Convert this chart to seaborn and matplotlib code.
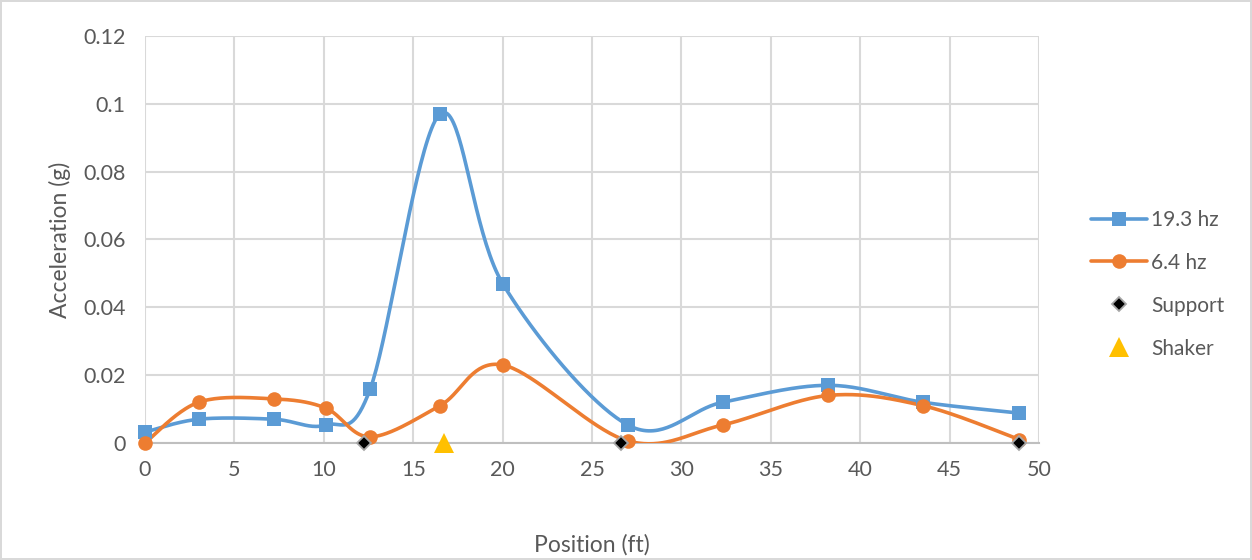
import numpy as np
import pandas as pd
import matplotlib
matplotlib.use("Agg")
import matplotlib.pyplot as plt
import seaborn as sns

pos_193 = [0.0, 3.0, 7.2, 10.1, 12.6, 16.5, 20.0, 27.0, 32.3, 38.2, 43.5, 48.9]
acc_193 = [0.0032, 0.007, 0.007, 0.0053, 0.016, 0.097, 0.047, 0.0053, 0.012, 0.017, 0.012, 0.0088]
pos_64 = [0.0, 3.0, 7.2, 10.1, 12.6, 16.5, 20.0, 27.0, 32.3, 38.2, 43.5, 48.9]
acc_64 = [0.0, 0.012, 0.013, 0.0103, 0.0018, 0.011, 0.023, 0.0006, 0.0053, 0.014, 0.011, 0.001]
support_pos = [12.25, 26.6, 48.9]
support_acc = [0.0, 0.0, 0.0]
shaker_pos = [16.7]
shaker_acc = [0.0]

BLUE = "#5B9BD5"
ORANGE = "#ED7D31"
YELLOW = "#FFC000"
GRID = "#D9D9D9"
TEXT = "#595959"


def excel_smooth(xs, ys, n=40):
    """Bezier smoothing like Excel's 'smoothed line' (tension 1/6)."""
    p = np.column_stack([xs, ys]).astype(float)
    out = []
    for i in range(len(p) - 1):
        p0 = p[i - 1] if i > 0 else p[i]
        p1, p2 = p[i], p[i + 1]
        p3 = p[i + 2] if i + 2 < len(p) else p[i + 1]
        c1 = p1 + (p2 - p0) / 6.0
        c2 = p2 - (p3 - p1) / 6.0
        t = np.linspace(0, 1, n, endpoint=(i == len(p) - 2))[:, None]
        seg = ((1 - t) ** 3) * p1 + 3 * ((1 - t) ** 2) * t * c1 + 3 * (1 - t) * t**2 * c2 + t**3 * p2
        out.append(seg)
    out = np.vstack(out)
    return pd.DataFrame({"x": out[:, 0], "y": out[:, 1]})


sns.set_theme(style="white")
plt.rcParams["font.family"] = ["Lato", "DejaVu Sans"]

fig = plt.figure(figsize=(12.52, 5.6), dpi=100)
fig.patch.set_edgecolor("#D9D9D9")
fig.patch.set_linewidth(1.5)
ax = fig.add_axes([0.1158, 0.209, 0.7142, 0.7267])

for xs, ys, color, marker, label in [
    (pos_193, acc_193, BLUE, "s", "19.3 hz"),
    (pos_64, acc_64, ORANGE, "o", "6.4 hz"),
]:
    curve = excel_smooth(xs, ys)
    sns.lineplot(data=curve, x="x", y="y", sort=False, estimator=None, color=color,
                 linewidth=2.6, ax=ax, zorder=3, legend=False)
    ax.plot(xs, ys, linestyle="none", marker=marker, markersize=10.5, color=color,
            markeredgewidth=0, zorder=4, clip_on=False)
    ax.plot([], [], color=color, linewidth=2.6, marker=marker, markersize=10.5,
            markeredgewidth=0, label=label)

ax.plot(support_pos, support_acc, linestyle="none", marker="D", markersize=7,
        color="black", markeredgecolor="#A6A6A6", markeredgewidth=1.3,
        zorder=5, clip_on=False, label="Support")
ax.plot(shaker_pos, shaker_acc, linestyle="none", marker="^", markersize=15,
        color=YELLOW, markeredgewidth=0, zorder=5, clip_on=False, label="Shaker")

ax.set_xlim(0, 50)
ax.set_ylim(0, 0.12)
ax.set_xticks(np.arange(0, 51, 5))
ax.set_yticks([0, 0.02, 0.04, 0.06, 0.08, 0.1, 0.12])
ax.set_yticklabels(["0", "0.02", "0.04", "0.06", "0.08", "0.1", "0.12"])
ax.grid(True, color=GRID, linewidth=1.5)
ax.set_axisbelow(True)
for side in ["top", "right", "left"]:
    ax.spines[side].set_visible(False)
ax.spines["bottom"].set_color("#BFBFBF")
ax.spines["bottom"].set_linewidth(1.5)
ax.tick_params(axis="both", colors=TEXT, labelsize=15.5, length=0)
ax.tick_params(axis="x", pad=12)
ax.tick_params(axis="y", pad=14)

ax.set_xlabel("Position (ft)", fontsize=16.5, color=TEXT, labelpad=39)
ax.set_ylabel("Acceleration (g)", fontsize=16.5, color=TEXT, labelpad=9)

leg = ax.legend(loc="center left", bbox_to_anchor=(1.037, 0.39), frameon=False,
                fontsize=15, labelcolor=TEXT, handlelength=2.7, labelspacing=1.1,
                handletextpad=0.2)

fig.savefig("out.png", dpi=100)
